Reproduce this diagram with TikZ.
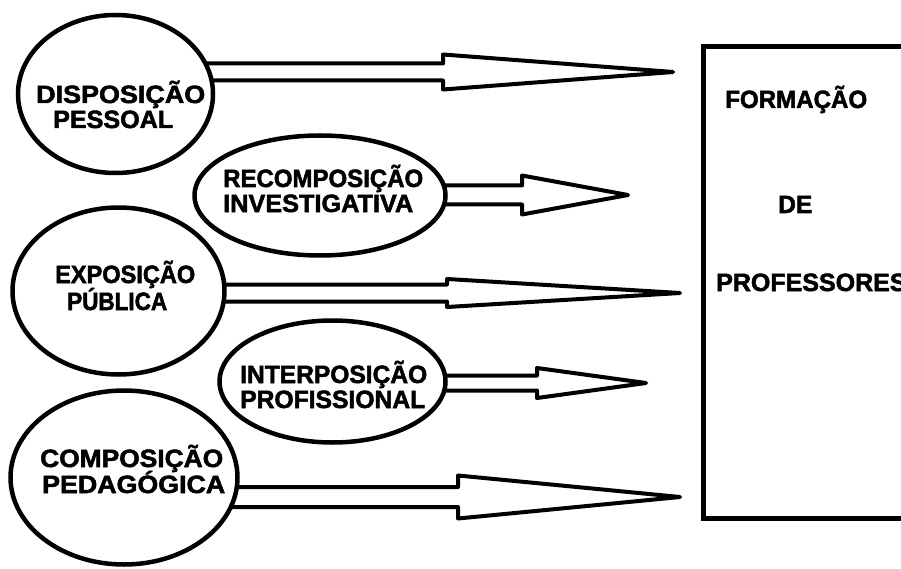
\documentclass[tikz,border=0pt]{standalone}
\usepackage{fontspec}
\setmainfont{Liberation Sans}[BoldFeatures={FakeBold=2}]
\usepackage{graphicx}
\usetikzlibrary{shapes.geometric,calc}
\pgfdeclarelayer{background}
\pgfsetlayers{background,main}

% one line of label text, stretched horizontally to a given width
\newcommand\fitline[2]{\resizebox{#1}{\height}{#2}}

% hollow block arrow: source node, head-base coordinate, tip coordinate,
% half shaft thickness, half head height
\newcommand\hollowarrow[5]{%
  \draw[arrowbody] let \p1=(#1.center), \p2=(#2), \p3=(#3) in
    (\x1,\y3+#4) -- (\x2,\y3+#4) -- (\x2,\y3+#5) -- (\p3)
    -- (\x2,\y3-#5) -- (\x2,\y3-#4) -- (\x1,\y3-#4) -- cycle;}

\begin{document}
\begin{tikzpicture}[x=1pt,y=-1pt,
  bubble/.style={draw, ellipse, line width=4.5pt, fill=white, inner sep=0pt},
  word/.style={anchor=base west, inner sep=0pt, font=\fontsize{25}{29}\selectfont\bfseries},
  arrowbody/.style={draw, line width=4pt, fill=white, line join=round},
  frame/.style={draw, line width=5pt, inner sep=0pt, anchor=north west}]

\useasboundingbox (0,0) rectangle (901,569);
\clip (0,0) rectangle (901,569);

% the five factors
\node[bubble, minimum width=195pt, minimum height=158pt] (disp) at (115.5,94) {};
\node[bubble, minimum width=251pt, minimum height=120pt] (recomp) at (320,195.5) {};
\node[bubble, minimum width=212pt, minimum height=167pt] (expo) at (118.5,291) {};
\node[bubble, minimum width=226pt, minimum height=122pt] (inter) at (332.5,381.5) {};
\node[bubble, minimum width=227pt, minimum height=174pt] (comp) at (124,477.5) {};

% target box, running off the right edge
\node[frame, minimum width=240pt, minimum height=472pt] (box) at (701,44) {};

% labels
\node[word] (l1a) at (36,103) {\fitline{169pt}{DISPOSIÇÃO}};
\node[word] (l1b) at (53,128) {\fitline{120pt}{PESSOAL}};
\node[word] (l2a) at (223,187) {\fitline{200pt}{RECOMPOSIÇÃO}};
\node[word] (l2b) at (223,212) {\fitline{190pt}{INVESTIGATIVA}};
\node[word] (l3a) at (55,283) {\fitline{140pt}{EXPOSIÇÃO}};
\node[word] (l3b) at (67,310) {\fitline{100pt}{PÚBLICA}};
\node[word] (l4a) at (240,383) {\fitline{187pt}{INTERPOSIÇÃO}};
\node[word] (l4b) at (240,408) {\fitline{185pt}{PROFISSIONAL}};
\node[word] (l5a) at (40,467) {\fitline{183pt}{COMPOSIÇÃO}};
\node[word] (l5b) at (42,493) {\fitline{183pt}{PEDAGÓGICA}};
\node[word] (t1) at (725,108) {\fitline{142pt}{FORMAÇÃO}};
\node[word] (t2) at (778,213) {\fitline{34pt}{DE}};
\node[word] (t3) at (716,291) {PROFESSORES};

% arrow heads: base and tip of each
\coordinate (b1) at (443,72);  \coordinate (p1) at (673,72);
\coordinate (b2) at (522,195); \coordinate (p2) at (628,195);
\coordinate (b3) at (447,293); \coordinate (p3) at (680,293);
\coordinate (b4) at (537,383); \coordinate (p4) at (646,383);
\coordinate (b5) at (458,497); \coordinate (p5) at (680,497);

\begin{pgfonlayer}{background}
  \fill[white] (0,0) rectangle (901,569);
  \hollowarrow{disp}{b1}{p1}{8.5pt}{17.5pt}
  \hollowarrow{recomp}{b2}{p2}{9.5pt}{19.5pt}
  \hollowarrow{expo}{b3}{p3}{8.5pt}{14pt}
  \hollowarrow{inter}{b4}{p4}{7.5pt}{15pt}
  \hollowarrow{comp}{b5}{p5}{10pt}{21.5pt}
\end{pgfonlayer}
\end{tikzpicture}
\end{document}
